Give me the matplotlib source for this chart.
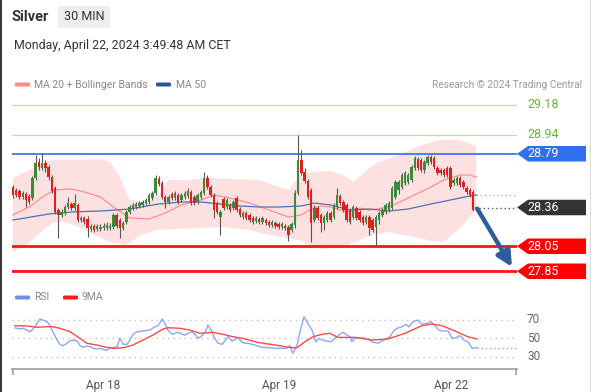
import matplotlib
matplotlib.use('Agg')
import matplotlib.pyplot as plt
import matplotlib.transforms as mtransforms
from matplotlib.patches import Rectangle, Polygon, FancyBboxPatch
from matplotlib.lines import Line2D

plt.rcParams['font.family'] = ['Roboto', 'DejaVu Sans']

# ---------------- data ----------------
opens = [28.524, 28.50, 28.492, 28.444, 28.468, 28.452, 28.436, 28.596, 28.724, 28.676,
         28.716, 28.684, 28.604, 28.516, 28.34, 28.30, 28.316, 28.364, 28.388, 28.356,
         28.38, 28.26, 28.276, 28.268, 28.188, 28.212, 28.188, 28.188, 28.196, 28.196,
         28.196, 28.204, 28.30, 28.26, 28.196, 28.244, 28.324, 28.356, 28.364, 28.372,
         28.38, 28.396, 28.404, 28.436, 28.476, 28.588, 28.556, 28.444, 28.404, 28.468,
         28.436, 28.46, 28.42, 28.444, 28.452, 28.484, 28.444, 28.404, 28.444, 28.476,
         28.596, 28.524, 28.46, 28.396, 28.284, 28.428, 28.364, 28.38, 28.356, 28.436,
         28.348, 28.284, 28.316, 28.30, 28.276, 28.252, 28.268, 28.244, 28.26, 28.244,
         28.22, 28.236, 28.228, 28.204, 28.212, 28.204, 28.18, 28.22, 28.476, 28.74,
         28.644, 28.572, 28.50, 28.26, 28.356, 28.30, 28.236, 28.26, 28.316, 28.284,
         28.364, 28.452, 28.404, 28.38, 28.34, 28.284, 28.356, 28.324, 28.284, 28.244,
         28.284, 28.26, 28.204, 28.26, 28.30, 28.324, 28.34, 28.356, 28.444, 28.50,
         28.524, 28.556, 28.564, 28.58, 28.676, 28.748, 28.74, 28.66, 28.716, 28.764,
         28.756, 28.676, 28.66, 28.66, 28.676, 28.676, 28.556, 28.556, 28.596, 28.564,
         28.516, 28.50, 28.484, 28.36]
highs = [28.54, 28.516, 28.508, 28.492, 28.484, 28.468, 28.612, 28.78, 28.756, 28.796,
         28.74, 28.70, 28.62, 28.532, 28.356, 28.348, 28.38, 28.444, 28.404, 28.468,
         28.396, 28.292, 28.292, 28.292, 28.228, 28.228, 28.228, 28.228, 28.236, 28.244,
         28.236, 28.316, 28.316, 28.276, 28.252, 28.34, 28.38, 28.396, 28.404, 28.412,
         28.42, 28.436, 28.476, 28.492, 28.62, 28.612, 28.572, 28.46, 28.46, 28.484,
         28.492, 28.476, 28.476, 28.492, 28.516, 28.50, 28.46, 28.476, 28.50, 28.644,
         28.62, 28.54, 28.476, 28.412, 28.34, 28.444, 28.436, 28.396, 28.42, 28.452,
         28.364, 28.332, 28.332, 28.316, 28.292, 28.292, 28.284, 28.292, 28.276, 28.26,
         28.26, 28.252, 28.244, 28.244, 28.228, 28.22, 28.244, 28.50, 28.94, 28.82,
         28.676, 28.588, 28.516, 28.38, 28.372, 28.316, 28.30, 28.332, 28.332, 28.396,
         28.516, 28.468, 28.42, 28.396, 28.356, 28.38, 28.372, 28.34, 28.30, 28.30,
         28.30, 28.276, 28.30, 28.332, 28.356, 28.396, 28.412, 28.532, 28.58, 28.58,
         28.636, 28.652, 28.636, 28.70, 28.772, 28.764, 28.756, 28.74, 28.78, 28.78,
         28.772, 28.692, 28.676, 28.676, 28.692, 28.692, 28.596, 28.612, 28.612, 28.58,
         28.532, 28.516, 28.50, 28.364]
lows = [28.436, 28.444, 28.428, 28.428, 28.364, 28.388, 28.42, 28.58, 28.66, 28.66,
        28.644, 28.58, 28.476, 28.308, 28.116, 28.284, 28.30, 28.348, 28.34, 28.34,
        28.244, 28.244, 28.228, 28.124, 28.172, 28.164, 28.172, 28.172, 28.18, 28.18,
        28.18, 28.188, 28.196, 28.116, 28.18, 28.228, 28.308, 28.34, 28.348, 28.356,
        28.364, 28.38, 28.388, 28.42, 28.46, 28.532, 28.428, 28.356, 28.388, 28.42,
        28.42, 28.388, 28.404, 28.428, 28.436, 28.38, 28.38, 28.388, 28.428, 28.46,
        28.508, 28.444, 28.276, 28.308, 28.14, 28.34, 28.348, 28.324, 28.34, 28.324,
        28.284, 28.268, 28.26, 28.244, 28.228, 28.236, 28.228, 28.228, 28.22, 28.204,
        28.204, 28.196, 28.188, 28.188, 28.18, 28.092, 28.164, 28.196, 28.46, 28.62,
        28.556, 28.428, 28.084, 28.244, 28.26, 28.164, 28.18, 28.244, 28.244, 28.268,
        28.348, 28.38, 28.324, 28.244, 28.228, 28.268, 28.26, 28.244, 28.22, 28.228,
        28.14, 28.164, 28.052, 28.228, 28.284, 28.308, 28.324, 28.34, 28.428, 28.468,
        28.508, 28.54, 28.548, 28.564, 28.66, 28.66, 28.644, 28.636, 28.70, 28.708,
        28.668, 28.62, 28.62, 28.604, 28.604, 28.508, 28.54, 28.54, 28.524, 28.508,
        28.468, 28.444, 28.332, 28.348]
closes = [28.46, 28.46, 28.444, 28.476, 28.42, 28.404, 28.596, 28.716, 28.684, 28.716,
          28.676, 28.604, 28.492, 28.324, 28.30, 28.324, 28.364, 28.396, 28.356, 28.396,
          28.26, 28.276, 28.244, 28.196, 28.212, 28.18, 28.212, 28.204, 28.212, 28.22,
          28.212, 28.30, 28.212, 28.196, 28.236, 28.324, 28.364, 28.38, 28.388, 28.396,
          28.404, 28.42, 28.46, 28.476, 28.596, 28.548, 28.444, 28.404, 28.444, 28.436,
          28.476, 28.404, 28.46, 28.476, 28.492, 28.396, 28.396, 28.46, 28.484, 28.596,
          28.524, 28.46, 28.34, 28.324, 28.324, 28.356, 28.42, 28.34, 28.404, 28.34,
          28.30, 28.316, 28.276, 28.26, 28.244, 28.276, 28.244, 28.276, 28.236, 28.22,
          28.244, 28.212, 28.204, 28.228, 28.196, 28.14, 28.228, 28.476, 28.74, 28.636,
          28.572, 28.444, 28.236, 28.356, 28.276, 28.236, 28.284, 28.316, 28.26, 28.38,
          28.46, 28.396, 28.34, 28.26, 28.244, 28.364, 28.276, 28.26, 28.236, 28.284,
          28.196, 28.18, 28.284, 28.316, 28.34, 28.38, 28.396, 28.516, 28.564, 28.564,
          28.62, 28.636, 28.62, 28.684, 28.756, 28.676, 28.66, 28.724, 28.764, 28.724,
          28.684, 28.636, 28.636, 28.62, 28.62, 28.524, 28.58, 28.596, 28.54, 28.524,
          28.484, 28.46, 28.34, 28.36]

ma20_x = [0, 5, 10, 13, 18, 21, 27, 31, 36, 42, 47, 52, 58, 62, 67, 73, 79, 85, 89,
          92, 95, 98, 101, 104, 107, 110, 116, 122, 129, 133, 138, 141, 143]
ma20 = [28.30, 28.364, 28.46, 28.50, 28.508, 28.492, 28.444, 28.364, 28.276, 28.268,
        28.316, 28.38, 28.42, 28.46, 28.436, 28.396, 28.34, 28.284, 28.30, 28.348,
        28.372, 28.364, 28.34, 28.324, 28.356, 28.34, 28.364, 28.436, 28.524, 28.58,
        28.62, 28.62, 28.604]

bb_up_x = [0, 5, 10, 13, 21, 27, 30, 33, 36, 42, 45, 48, 54, 61, 67, 76, 82, 85, 87,
           89, 92, 98, 102, 105, 110, 113, 119, 126, 132, 138, 143]
bb_up = [28.596, 28.66, 28.724, 28.74, 28.74, 28.748, 28.724, 28.604, 28.42, 28.404,
         28.46, 28.58, 28.58, 28.596, 28.588, 28.58, 28.524, 28.50, 28.564, 28.62,
         28.644, 28.652, 28.62, 28.564, 28.676, 28.724, 28.78, 28.86, 28.90, 28.90,
         28.852]

bb_lo_x = [0, 5, 10, 13, 16, 21, 25, 30, 35, 39, 44, 50, 58, 65, 73, 79, 85, 89, 92,
           96, 101, 106, 110, 116, 122, 129, 133, 138, 141, 143]
bb_lo = [28.004, 28.076, 28.196, 28.244, 28.244, 28.196, 28.14, 28.084, 28.06, 28.132,
         28.18, 28.188, 28.196, 28.204, 28.18, 28.14, 28.116, 28.092, 28.044, 28.028,
         28.044, 28.084, 28.132, 28.164, 28.132, 28.092, 28.084, 28.196, 28.284, 28.364]

ma50_x = [0, 11, 18, 27, 36, 45, 52, 58, 64, 70, 76, 82, 89, 93, 98, 104, 110, 116,
          122, 129, 135, 141, 143]
ma50 = [28.26, 28.308, 28.324, 28.332, 28.348, 28.388, 28.404, 28.404, 28.388, 28.372,
        28.364, 28.364, 28.372, 28.396, 28.38, 28.34, 28.348, 28.332, 28.348, 28.388,
        28.42, 28.452, 28.46]

rsi_x = [0.6, 2.2, 3.1, 4.3, 5.2, 6.2, 7.4, 8.3, 9.3, 10.5, 11.4, 12.3, 13.6, 14.5,
         15.4, 16.7, 17.6, 18.5, 19.8, 20.7, 21.6, 22.8, 23.8, 24.7, 25.9, 26.9, 27.8,
         29, 29.9, 30.9, 32.1, 33, 34, 35.2, 36.1, 37, 38.3, 40.1, 42.3, 43.8, 44.8, 46,
         46.9, 47.8, 49.1, 50, 50.9, 52.2, 53.1, 54, 55.2, 56.2, 57.1, 58.3, 59.3, 60.2,
         61.4, 62.3, 63.3, 64.5, 65.4, 66.4, 67.6, 68.5, 69.4, 70.7, 71.6, 72.5, 73.8,
         75.3, 76.9, 78.7, 80.9, 83, 84.6, 85.5, 86.4, 87.7, 88.6, 89.8, 91, 92.3, 93.5,
         94.4, 95.4, 96.9, 98.1, 99.4, 100.9, 101.9, 103.1, 104, 104.6, 105.6, 106.8,
         108, 109.6, 111.1, 112.7, 113.9, 115.4, 116.4, 117.3, 118.5, 120.1, 121.3,
         122.2, 123.5, 125, 126.2, 127.8, 129, 130.2, 131.5, 132.7, 134.3, 135.5, 136.7,
         138, 139.2, 140.4, 141.7, 143.2]
rsi = [61, 59.7, 60.5, 58.6, 56.8, 59.7, 65.9, 70.5, 69.5, 67.6, 64, 56.8, 47.8, 43.2,
       41.7, 44.3, 47.1, 47.8, 46.8, 41.7, 39.9, 41.4, 40.6, 38.9, 38.1, 38.9, 37.8,
       36.7, 39.5, 39.5, 40.6, 49.6, 43.2, 43.2, 47.8, 54, 56.8, 57.6, 58.6, 62.2, 63.3,
       70.5, 65.9, 58.6, 54, 55.1, 56.2, 54, 53.2, 55.1, 56.8, 54, 49.6, 52.5, 56.2, 64,
       56.8, 49.6, 44.3, 43.2, 46.8, 51.4, 46.8, 48.2, 50.3, 45.4, 44.3, 44.3, 43.2,
       41.7, 39.9, 39.5, 38.9, 38.9, 38.9, 41.7, 33.5, 42.4, 56.8, 73, 65.9, 58.6, 46,
       49.6, 47.8, 46.8, 46, 49.6, 54, 56.2, 53.2, 51.4, 46, 50.3, 49.6, 50.3, 48.6,
       45.4, 44.3, 46.8, 49.6, 51.4, 56.8, 60.5, 62.2, 64.8, 62.2, 67.6, 69.5, 64.8,
       65.9, 67.6, 63.3, 58.6, 57.6, 57.6, 49.6, 50.3, 52.5, 47.8, 46, 38.9, 39.5]

ma9_x = [0.6, 4.3, 7.4, 10.5, 12.3, 14.5, 17.6, 20.7, 22.8, 25.9, 29, 30.9, 34, 37,
         40.1, 43.2, 46.3, 47.8, 51.5, 54.6, 57.7, 61.7, 64.8, 67.9, 71, 75.3, 80.9,
         86.1, 87.7, 90.1, 92.6, 95.4, 97.8, 100.3, 105.6, 110.8, 115.7, 121, 126.2,
         129.3, 132.4, 136.4, 140.4, 143.2]
ma9 = [63.3, 63, 61.6, 62.2, 62.2, 60.5, 56.8, 49.6, 44.3, 42.4, 39.9, 38.9, 39.5,
       42.4, 47.8, 53.2, 59.7, 61.1, 60.5, 58.6, 55.1, 56.2, 54, 51.4, 49.6, 45.4, 42.4,
       39.5, 39.5, 46, 51.4, 54, 55.1, 50.7, 50.7, 47.8, 48.9, 55.1, 63.3, 65.1, 63.3,
       57.6, 51.4, 48.9]

resistances = [29.18, 28.94]
pivot = 28.79
supports = [28.05, 27.85]
rsi_levels = [70, 50, 30]
tick_pos = [27.7, 82.1, 135.3]
tick_labels = ['Apr 18', 'Apr 19', 'Apr 22']

# ---------------- figure ----------------
W, H = 591, 392
fig = plt.figure(figsize=(W / 100, H / 100), dpi=100)
fig.patch.set_facecolor('white')


def fx(px):
    return px / W


def fy(py):
    return 1 - py / H


ax = fig.add_axes([fx(12), fy(280), 505 / W, 185 / H])
ax2 = fig.add_axes([fx(12), fy(369), 505 / W, 64 / H])
xlim = (-0.31, 155.56)
for a in (ax, ax2):
    a.set_xlim(*xlim)
    a.set_facecolor('none')
ax.set_ylim(27.78, 29.26)
ax2.set_ylim(16.5, 85.7)
ax.axis('off')

n = len(closes)
last = closes[-1]

# Bollinger band (upper edge then lower edge back) + moving averages
ax.fill(bb_up_x + bb_lo_x[::-1], bb_up + bb_lo[::-1], color='#fde1e1', lw=0, zorder=1)
ax.plot(ma20_x, ma20, color='#ff8f8f', lw=0.9, zorder=2)
ax.plot(ma50_x, ma50, color='#4f70b0', lw=0.9, zorder=2)

# level lines
for r in resistances:
    ax.axhline(r, color='#bfe0a8', lw=0.9, zorder=1)
ax.axhline(pivot, color='#3b7be8', lw=1.3, zorder=1)
for s in supports:
    ax.axhline(s, color='#ff1414', lw=2.0, zorder=1)
ax.plot([n - 0.2, xlim[1]], [last, last], color='#555555', lw=1, ls=(0, (1, 2)), zorder=1)
ax.plot([n - 1, xlim[1]], [ma50[-1], ma50[-1]], color='#9db4e8', lw=1, ls=(0, (1, 2)), zorder=1)

# candles
for i in range(n):
    o, h, l, c = opens[i], highs[i], lows[i], closes[i]
    if c > o:
        col = '#3a8a3a'
    elif c < o:
        col = '#e0201b'
    else:
        col = '#555555'
    ax.vlines(i, l, h, color='#555555', lw=0.8, zorder=3)
    ax.bar(i, max(abs(c - o), 0.006), bottom=min(o, c), width=0.75, color=col,
           lw=0, zorder=4)

# forecast arrow
ax.annotate('', xy=(154.0, supports[1] + 0.035), xytext=(n - 0.7, last - 0.01),
            arrowprops=dict(arrowstyle='-|>,head_length=0.9,head_width=0.45',
                            color='#2d5d9f', lw=3.2, shrinkA=0, shrinkB=0),
            zorder=6)

# right-hand price tags
tr = mtransforms.blended_transform_factory(ax.transAxes, ax.transData)
x_tip, x_box, x_end = 1.0, 11 / 505, 574 / 505
half = 0.062


def tag(price, face):
    pts = [(x_tip, price), (x_tip + x_box, price + half), (x_end, price + half),
           (x_end, price - half), (x_tip + x_box, price - half)]
    ax.add_patch(Polygon(pts, closed=True, transform=tr, facecolor=face,
                         edgecolor='none', clip_on=False, zorder=5))
    ax.text(515 / 505, price, f'{price:.2f}', transform=tr, color='white',
            fontsize=9, va='center', ha='left', clip_on=False, zorder=6)


for r in resistances:
    ax.text(515 / 505, r, f'{r:.2f}', transform=tr, color='#6cb33f', fontsize=9,
            va='center', ha='left', clip_on=False)
tag(pivot, '#2f6ff0')
tag(last, '#333333')
for s in supports:
    tag(s, '#ff0000')

# RSI panel
tr2 = mtransforms.blended_transform_factory(ax2.transAxes, ax2.transData)
for lv in rsi_levels:
    ax2.axhline(lv, color='#c4c4c4', lw=1, ls=(0, (1, 3)), zorder=1)
    ax2.text(515 / 505, lv, str(lv), transform=tr2, color='#666666', fontsize=8.5,
             va='center', ha='left')
ax2.plot(rsi_x, rsi, color='#8ca8f0', lw=1, zorder=3)
ax2.plot([rsi_x[-1], xlim[1]], [rsi[-1], rsi[-1]], color='#8ca8f0', lw=1,
         ls=(0, (1, 2)), zorder=3)
ax2.plot(ma9_x, ma9, color='#ff4a4a', lw=1, zorder=4)

for side in ('top', 'left', 'right'):
    ax2.spines[side].set_visible(False)
ax2.spines['bottom'].set_color('#9e9e9e')
ax2.spines['bottom'].set_linewidth(1.2)
ax2.set_yticks([])
ax2.set_xticks(tick_pos)
ax2.set_xticklabels(tick_labels, color='#555555', fontsize=8.5)
ax2.tick_params(axis='x', which='major', length=0, pad=7)
ax2.set_xticks([xlim[0] + 0.2, xlim[1] - 0.2], minor=True)
ax2.tick_params(axis='x', which='minor', length=4, width=1.2, color='#9e9e9e')

# header
fig.text(fx(12), fy(17), 'Silver', fontsize=10.5, fontweight='bold', color='#333333',
         va='center', ha='left')
fig.patches.append(Rectangle((fx(58), fy(28)), 52 / W, 22 / H, transform=fig.transFigure,
                             facecolor='#eeeeee', edgecolor='none'))
fig.text(fx(84), fy(17), '30 MIN', fontsize=9, color='#333333', va='center',
         ha='center')
fig.text(fx(14), fy(45), 'Monday, April 22, 2024 3:49:48 AM CET', fontsize=8.9,
         color='#333333', va='center', ha='left')


def key(x0, y0, col):
    fig.patches.append(FancyBboxPatch((fx(x0), fy(y0 + 2)), 15 / W, 4 / H,
                                      boxstyle='round,pad=0,rounding_size=0.003',
                                      transform=fig.transFigure, facecolor=col,
                                      edgecolor='none'))


key(15, 84.5, '#ff8a8a')
fig.text(fx(34), fy(84.5), 'MA 20 + Bollinger Bands', fontsize=7.5, color='#888888',
         va='center', ha='left')
key(156, 84.5, '#2f5597')
fig.text(fx(176), fy(84.5), 'MA 50', fontsize=7.5, color='#888888', va='center',
         ha='left')
fig.text(fx(582), fy(84.5), 'Research \u00a9 2024 Trading Central', fontsize=7.3,
         color='#9a9a9a', va='center', ha='right')

key(15, 297.5, '#6f8fe8')
fig.text(fx(34), fy(297.5), 'RSI', fontsize=7.5, color='#888888', va='center', ha='left')
key(63, 297.5, '#ff1a1a')
fig.text(fx(82), fy(297.5), '9MA', fontsize=7.5, color='#888888', va='center',
         ha='left')

# frame edges
fig.add_artist(Line2D([fx(0.8), fx(0.8)], [0, 1], color='#3a3a3a', lw=1.5,
                      transform=fig.transFigure))
fig.add_artist(Line2D([fx(589.5), fx(589.5)], [0, 1], color='#dddddd', lw=1,
                      transform=fig.transFigure))

fig.savefig('out.png', dpi=100)
